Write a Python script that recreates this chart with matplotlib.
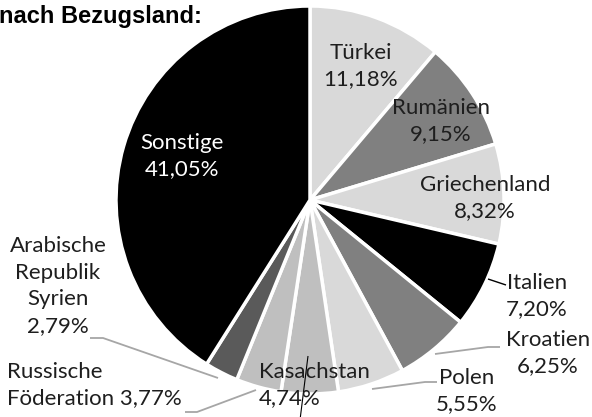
import matplotlib
matplotlib.use("Agg")
import matplotlib.pyplot as plt

# ---- data ----
countries = ["Türkei", "Rumänien", "Griechenland", "Italien", "Kroatien",
             "Polen", "Kasachstan", "Russische Föderation",
             "Arabische Republik Syrien", "Sonstige"]
shares = [11.18, 9.15, 8.32, 7.20, 6.25, 5.55, 4.74, 3.77, 2.79, 41.05]
title_text = "nach Bezugsland:"

# ---- style / layout ----
colors = ["#d9d9d9", "#808080", "#d9d9d9", "#000000", "#808080",
          "#d9d9d9", "#bfbfbf", "#bfbfbf", "#5a5a5a", "#000000"]
display_names = ["Türkei", "Rumänien", "Griechenland", "Italien", "Kroatien",
                 "Polen", "Kasachstan", "Russische\nFöderation",
                 "Arabische\nRepublik\nSyrien", "Sonstige"]
name_sep = ["\n"] * 7 + [" ", "\n", "\n"]
# label anchor (x, y in pixels from top-left), horizontal alignment, colour
label_layout = [(361, 66, "center", "#1e1e1e"),
                (441, 121, "center", "#1e1e1e"),
                (485, 198, "center", "#1e1e1e"),
                (537, 296, "center", "#1e1e1e"),
                (548, 353, "center", "#1e1e1e"),
                (467, 391, "center", "#1e1e1e"),
                (259, 385, "left", "#1e1e1e"),
                (7, 385, "left", "#1e1e1e"),
                (58, 286, "center", "#1e1e1e"),
                (182, 156, "center", "white")]
# leader lines (pixel coords) and colours
leaders = [([488, 506], [279, 285], "black", 1.0),
           ([435, 488, 500], [354, 347, 347], "#a6a6a6", 1.3),
           ([372, 425, 437], [389, 382, 382], "#a6a6a6", 1.3),
           ([90, 103, 218], [338, 338, 378], "#a6a6a6", 1.3),
           ([185, 197, 256], [412, 412, 390], "#a6a6a6", 1.3),
           ([308, 300], [356, 420], "black", 0.8)]

W, H = 592, 417
fig = plt.figure(figsize=(W / 100, H / 100), dpi=100)
ax = fig.add_axes([0, 0, 1, 1])

ax.pie(shares, colors=colors, startangle=-90, counterclock=True,
       center=(310, 200), radius=194, frame=True,
       wedgeprops=dict(edgecolor="white", linewidth=2.5))
ax.set_xlim(0, W)
ax.set_ylim(H, 0)
ax.set_aspect("equal")
ax.axis("off")

for xs, ys, c, lw in leaders:
    ax.plot(xs, ys, color=c, lw=lw, solid_capstyle="butt", zorder=3)

for name, sep, val, (x, y, ha, col) in zip(display_names, name_sep, shares, label_layout):
    txt = name + sep + f"{val:.2f}".replace(".", ",") + "%"
    ax.text(x, y, txt, ha=ha, va="center", multialignment=ha,
            fontsize=16, family="Lato", color=col, linespacing=1.42, zorder=4)

fig.text(-1 / W, 1 - 17 / H, title_text, ha="left", va="center",
         fontsize=17, fontweight="bold", family="Liberation Sans")

fig.savefig("out.png", dpi=100)
